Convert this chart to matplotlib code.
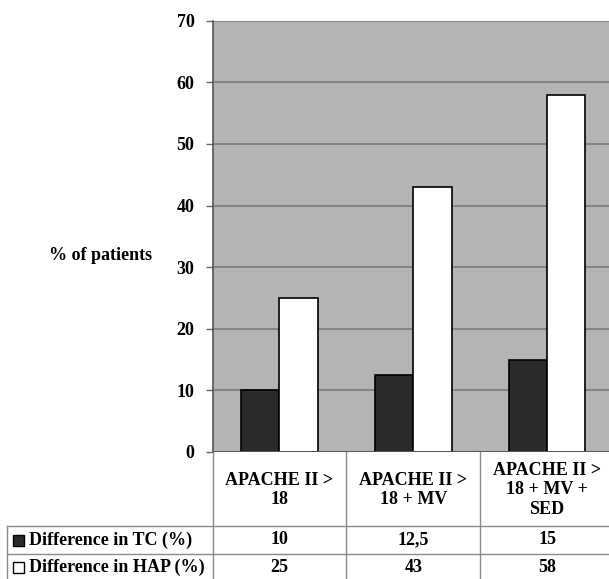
import matplotlib
matplotlib.use("Agg")
import matplotlib.pyplot as plt
from matplotlib.lines import Line2D
from matplotlib.patches import Rectangle
from matplotlib.transforms import blended_transform_factory
import numpy as np

categories = ["APACHE II >\n18", "APACHE II >\n18 + MV", "APACHE II >\n18 + MV +\nSED"]
series_names = ["Difference in TC (%)", "Difference in HAP (%)"]
tc_values = [10, 12.5, 15]
hap_values = [25, 43, 58]
tc_labels = ["10", "12,5", "15"]
hap_labels = ["25", "43", "58"]
yticks = [0, 10, 20, 30, 40, 50, 60, 70]

W, H = 609, 579
plt.rcParams['font.family'] = ['Liberation Serif', 'DejaVu Serif']
plt.rcParams['font.weight'] = 'bold'
FS = 13

fig = plt.figure(figsize=(W / 100, H / 100), dpi=100)
fig.patch.set_facecolor('white')

def fx(px):
    return px / W

def fy(py):
    return 1 - py / H

ax_l, ax_r, ax_t, ax_b = 212.5, 614, 20.7, 452
ax = fig.add_axes([fx(ax_l), fy(ax_b), fx(ax_r - ax_l), (ax_b - ax_t) / H])
ax.set_facecolor('#b4b4b4')

x = np.arange(len(categories))
bw = 0.287
ax.bar(x - bw / 2, tc_values, width=bw, color='#2a2a2a', edgecolor='black', linewidth=1.2, zorder=3)
ax.bar(x + bw / 2, hap_values, width=bw, color='white', edgecolor='black', linewidth=1.2, zorder=3)

ax.set_xlim(-0.5, len(categories) - 0.5)
ax.set_ylim(0, 70)
ax.set_yticks(yticks)
ax.set_yticklabels([str(v) for v in yticks], fontsize=FS, fontweight='bold')
ax.yaxis.grid(True, color='#7a7a7a', linewidth=1.2, zorder=1)
ax.set_axisbelow(True)
ax.set_xticks([])
for s in ['top', 'right', 'bottom']:
    ax.spines[s].set_visible(False)
ax.spines['left'].set_color('#555555')
ax.spines['left'].set_linewidth(1.2)
ax.tick_params(axis='y', length=5, width=1.0, color='#666666', pad=8)
ax.axhline(0, color='#555555', linewidth=1.4, zorder=4)

fig.text(fx(101), fy(255), "% of patients", ha='center', va='center',
         fontsize=FS, fontweight='bold')

# Data table below the axis
tr = blended_transform_factory(ax.transData, fig.transFigure)
line_col = '#8a8a8a'
row_hdr_b, row1_b, row2_b = 526, 554, 590
left_px = 7

for b in np.arange(len(categories) + 1) - 0.5:
    fig.add_artist(Line2D([b, b], [fy(ax_b), fy(row2_b)], transform=tr,
                          color=line_col, linewidth=1.0))
fig.add_artist(Line2D([fx(left_px), fx(left_px)], [fy(row_hdr_b), fy(row2_b)],
                      transform=fig.transFigure, color=line_col, linewidth=1.0))
for yb in [row_hdr_b, row1_b]:
    fig.add_artist(Line2D([fx(left_px), 1.02], [fy(yb), fy(yb)],
                          transform=fig.transFigure, color=line_col, linewidth=1.0))

for i, c in enumerate(categories):
    fig.text(i, fy((ax_b + row_hdr_b) / 2 + 1), c, transform=tr, ha='center', va='center',
             fontsize=FS, fontweight='bold', linespacing=1.2)

rows = [(tc_labels, (row_hdr_b + row1_b) / 2, '#2a2a2a'),
        (hap_labels, (row1_b + 581) / 2, 'white')]
for (labels, yc, col), name in zip(rows, series_names):
    for i, lab in enumerate(labels):
        fig.text(i, fy(yc), lab, transform=tr, ha='center', va='center',
                 fontsize=FS, fontweight='bold')
    sq = 11
    fig.add_artist(Rectangle((fx(13), fy(yc + sq / 2)), fx(sq), sq / H,
                             transform=fig.transFigure, facecolor=col,
                             edgecolor='black', linewidth=1.0))
    fig.text(fx(29), fy(yc), name, ha='left', va='center',
             fontsize=FS, fontweight='bold')

fig.savefig("out.png", dpi=100)
